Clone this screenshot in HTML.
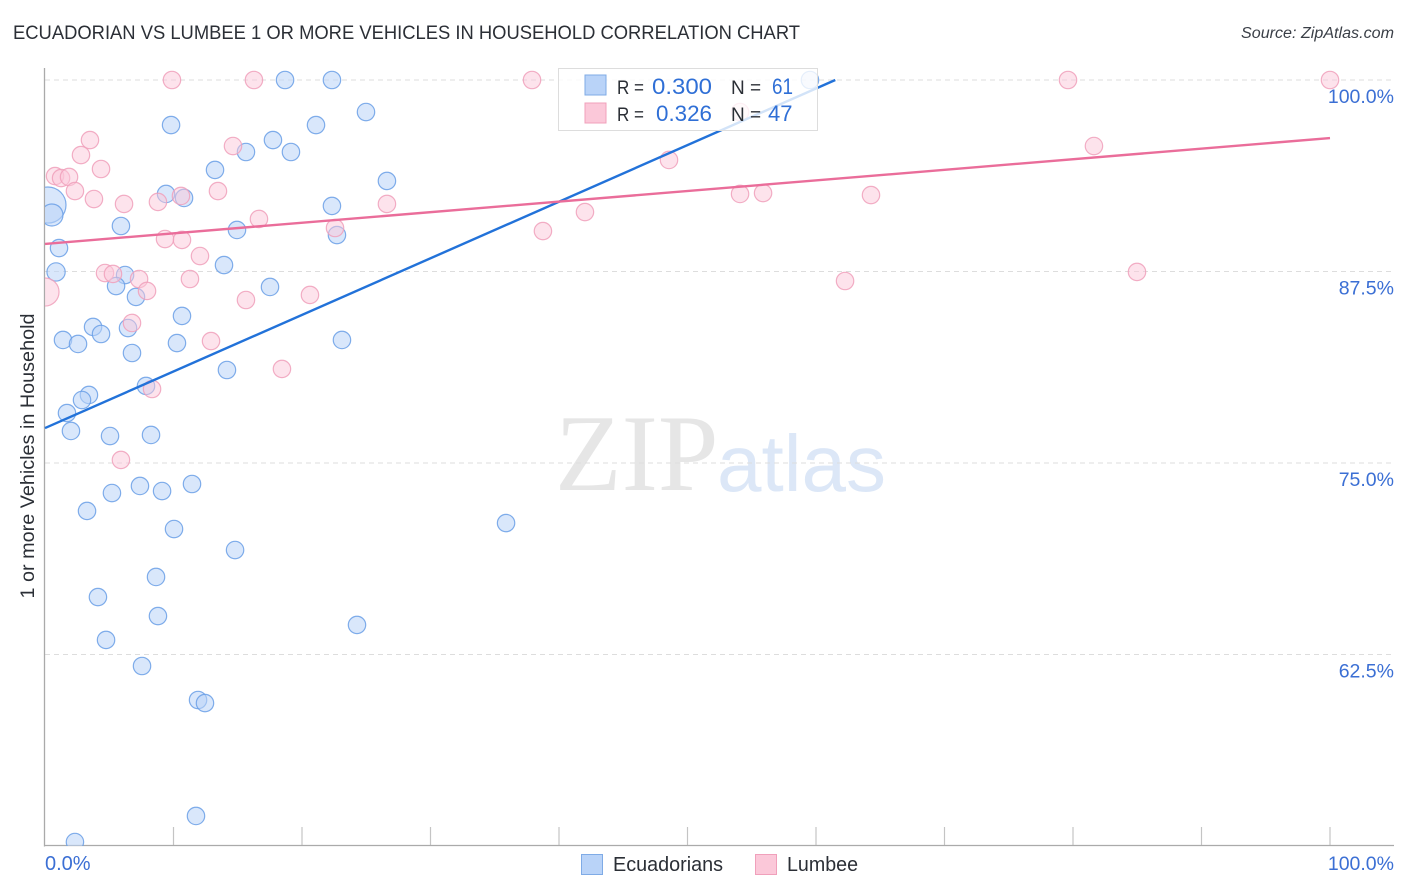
<!DOCTYPE html>
<html lang="en">
<head>
<meta charset="utf-8">
<title>Ecuadorian vs Lumbee 1 or more Vehicles in Household Correlation Chart</title>
<style>
html,body{margin:0;padding:0;background:#fff;}
svg{display:block;font-family:"Liberation Sans",sans-serif;}
</style>
</head>
<body>
<svg id="chart" xmlns="http://www.w3.org/2000/svg" width="1406" height="892" viewBox="0 0 1406 892">
  <defs><clipPath id="plot-clip"><rect x="45" y="68" width="1349" height="778"/></clipPath></defs>
  <rect x="0" y="0" width="1406" height="892" fill="#ffffff"/>
  <text x="13" y="39" font-size="19" fill="#2b2f36" textLength="787" lengthAdjust="spacingAndGlyphs">ECUADORIAN VS LUMBEE 1 OR MORE VEHICLES IN HOUSEHOLD CORRELATION CHART</text>
  <text x="1241" y="38" font-size="15.5" font-style="italic" fill="#3a3f47" textLength="153" lengthAdjust="spacingAndGlyphs">Source: ZipAtlas.com</text>
  <g>
    <text x="555" y="490" font-family="'Liberation Serif',serif" font-size="109" fill="#e6e6e6">ZIP</text>
    <text x="717" y="491" font-size="80" fill="#dce7f7">atlas</text>
  </g>
  <g id="grid"></g>
  <g id="axes"></g>
  <g id="points" clip-path="url(#plot-clip)"></g>
  <g id="trends"></g>
  <text transform="translate(34,456) rotate(-90)" font-size="19.5" text-anchor="middle" fill="#2b2f36" textLength="285" lengthAdjust="spacingAndGlyphs">1 or more Vehicles in Household</text>
  <g>
    <rect x="558.5" y="68.5" width="259" height="62" fill="#ffffff" fill-opacity="0.8" stroke="#dddddd" stroke-width="1"/>
    <rect x="585" y="75" width="21" height="20" fill="#b9d3f8" stroke="#7fabe6" stroke-width="1"/>
    <rect x="585" y="103" width="21" height="20" fill="#fbc8d9" stroke="#f0a0bb" stroke-width="1"/>
    <text x="617" y="94" font-size="19" fill="#2b2f36" textLength="27" lengthAdjust="spacingAndGlyphs">R =</text>
    <text x="652" y="94" font-size="22" fill="#2f6fd6" textLength="60" lengthAdjust="spacingAndGlyphs">0.300</text>
    <text x="731" y="94" font-size="19" fill="#2b2f36">N =</text>
    <text x="772" y="94" font-size="22" fill="#2f6fd6" textLength="21" lengthAdjust="spacingAndGlyphs">61</text>
    <text x="617" y="121" font-size="19" fill="#2b2f36" textLength="27" lengthAdjust="spacingAndGlyphs">R =</text>
    <text x="656" y="121" font-size="22" fill="#2f6fd6" textLength="56" lengthAdjust="spacingAndGlyphs">0.326</text>
    <text x="731" y="121" font-size="19" fill="#2b2f36">N =</text>
    <text x="768" y="121" font-size="22" fill="#2f6fd6">47</text>
  </g>
  <g>
    <rect x="581.5" y="854.5" width="21" height="20" fill="#b9d3f8" stroke="#7fabe6" stroke-width="1"/>
    <text x="613" y="871" font-size="20" fill="#2b2f36" textLength="110" lengthAdjust="spacingAndGlyphs">Ecuadorians</text>
    <rect x="755.5" y="854.5" width="21" height="20" fill="#fbc8d9" stroke="#f0a0bb" stroke-width="1"/>
    <text x="787" y="871" font-size="20" fill="#2b2f36" textLength="71" lengthAdjust="spacingAndGlyphs">Lumbee</text>
  </g>
</svg>
<script>
const yTickValues = [100, 87.5, 75, 62.5];
const yTickLabels = ['100.0%', '87.5%', '75.0%', '62.5%'];
const xTickValues = [10, 20, 30, 40, 50, 60, 70, 80, 90, 100];
const xEndLabels = ['0.0%', '100.0%'];

const ecuadorianX = [18.68,22.33,59.53,24.98,9.81,21.09,17.74,15.64,19.14,13.23,26.61,9.42,10.82,22.33,0.23,0.54,5.91,14.94,22.72,1.09,13.93,0.86,6.23,5.53,17.51,7.08,10.66,3.74,6.46,4.36,1.40,2.57,10.27,23.11,6.77,14.16,7.86,3.42,2.88,1.71,2.02,5.06,8.25,5.21,7.39,9.11,11.44,3.27,10.04,35.88,14.79,8.64,4.12,8.79,24.28,4.75,7.55,11.91,12.45,11.75,2.33];
const ecuadorianY = [100,100,100,97.91,97.06,97.06,96.08,95.30,95.30,94.13,93.41,92.56,92.30,91.78,91.84,91.19,90.47,90.21,89.88,89.03,87.92,87.47,87.27,86.55,86.49,85.84,84.60,83.88,83.81,83.42,83.03,82.77,82.83,83.03,82.18,81.07,80.03,79.44,79.11,78.26,77.09,76.76,76.83,73.04,73.50,73.17,73.63,71.87,70.69,71.08,69.32,67.56,66.25,65.01,64.43,63.45,61.75,59.53,59.33,51.96,50.26];
const ecuadorianWeight = [1,1,1,1,1,1,1,1,1,1,1,1,1,1,4.3,1.6,1,1,1,1,1,1.1,1,1,1,1,1,1,1,1,1,1,1,1,1,1,1,1,1,1,1,1,1,1,1,1,1,1,1,1,1,1,1,1,1,1,1,1,1,1,1];

const lumbeeX = [9.88,16.26,37.90,79.61,100,54.09,3.50,2.80,14.63,4.36,0.78,1.25,1.87,2.33,3.81,6.15,8.79,10.58,13.46,48.56,54.09,55.88,64.28,81.63,42.02,38.75,26.61,16.65,22.57,9.34,10.66,12.06,4.67,5.29,7.32,11.28,7.94,15.64,20.62,0,62.26,84.98,6.77,12.92,18.44,8.33,5.91];
const lumbeeY = [100,100,100,100,100,97.91,96.08,95.10,95.69,94.19,93.73,93.60,93.67,92.75,92.23,91.91,92.04,92.43,92.75,94.78,92.56,92.62,92.49,95.69,91.38,90.14,91.91,90.93,90.34,89.62,89.56,88.51,87.40,87.34,87.01,87.01,86.23,85.64,85.97,86.16,86.88,87.47,84.14,82.96,81.14,79.83,75.20];
const lumbeeWeight = [1,1,1,1,1,1,1,1,1,1,1,1,1,1,1,1,1,1,1,1,1,1,1,1,1,1,1,1,1,1,1,1,1,1,1,1,1,1,1,2.6,1,1,1,1,1,1,1];

const ecuadorianTrendX = [0, 61.5];
const ecuadorianTrendY = [77.28, 100];
const lumbeeTrendX = [0, 100];
const lumbeeTrendY = [89.30, 96.21];

const NS = 'http://www.w3.org/2000/svg';
function xScale(v) { return 45 + v * 12.85; }
function yScale(v) { return 80 + (100 - v) * 15.32; }
function rScale(w) { return 8.7 * Math.sqrt(w); }
function make(tag, parent, attrs, text) {
  const el = document.createElementNS(NS, tag);
  for (const k in attrs) el.setAttribute(k, attrs[k]);
  if (text !== undefined) el.textContent = text;
  parent.appendChild(el);
  return el;
}

const grid = document.getElementById('grid');
const axes = document.getElementById('axes');
const points = document.getElementById('points');
const trends = document.getElementById('trends');

yTickValues.forEach(function (v, i) {
  const line = make('line', grid, {x1: 45, x2: 1394, y1: yScale(v), y2: yScale(v), stroke: '#dddddd', 'stroke-width': 1, 'stroke-dasharray': '5 4'});
  
  
  const label = make('text', axes, {x: 1394, y: yScale(v) + 23, 'font-size': 19.5, 'text-anchor': 'end', fill: '#3b6fd4'}, yTickLabels[i]);
  
  
});

xTickValues.forEach(function (v) {
  const tick = make('line', axes, {x1: xScale(v), x2: xScale(v), y1: 827, y2: 846, stroke: '#c4c4c4', 'stroke-width': 1.2});
  
  
});

const yAxis = make('line', axes, {x1: 44.5, x2: 44.5, y1: 68, y2: 846.5, stroke: '#aaaaaa', 'stroke-width': 1.3});


const xAxis = make('line', axes, {x1: 44, x2: 1394, y1: 845.5, y2: 845.5, stroke: '#aaaaaa', 'stroke-width': 1.3});



const xLabelStart = make('text', axes, {x: 45, y: 870, 'font-size': 20, fill: '#3b6fd4'}, xEndLabels[0]);


const xLabelEnd = make('text', axes, {x: 1394, y: 870, 'font-size': 19.5, 'text-anchor': 'end', fill: '#3b6fd4'}, xEndLabels[1]);



ecuadorianX.forEach(function (v, i) {
  const c = make('circle', points, {cx: xScale(v), cy: yScale(ecuadorianY[i]), r: rScale(ecuadorianWeight[i]), fill: '#b9d3f8', 'fill-opacity': 0.55, stroke: '#6a9fe6', 'stroke-opacity': 0.85, 'stroke-width': 1.2});
  
  
});
lumbeeX.forEach(function (v, i) {
  const c = make('circle', points, {cx: xScale(v), cy: yScale(lumbeeY[i]), r: rScale(lumbeeWeight[i]), fill: '#fbc8d9', 'fill-opacity': 0.5, stroke: '#f0a0bb', 'stroke-opacity': 0.85, 'stroke-width': 1.2});
  
  
});

const blueTrend = make('line', trends, {x1: xScale(ecuadorianTrendX[0]), y1: yScale(ecuadorianTrendY[0]), x2: xScale(ecuadorianTrendX[1]), y2: yScale(ecuadorianTrendY[1]), stroke: '#2272d9', 'stroke-width': 2.4});


const pinkTrend = make('line', trends, {x1: xScale(lumbeeTrendX[0]), y1: yScale(lumbeeTrendY[0]), x2: xScale(lumbeeTrendX[1]), y2: yScale(lumbeeTrendY[1]), stroke: '#ea6d9a', 'stroke-width': 2.4});


</script>
</body>
</html>
